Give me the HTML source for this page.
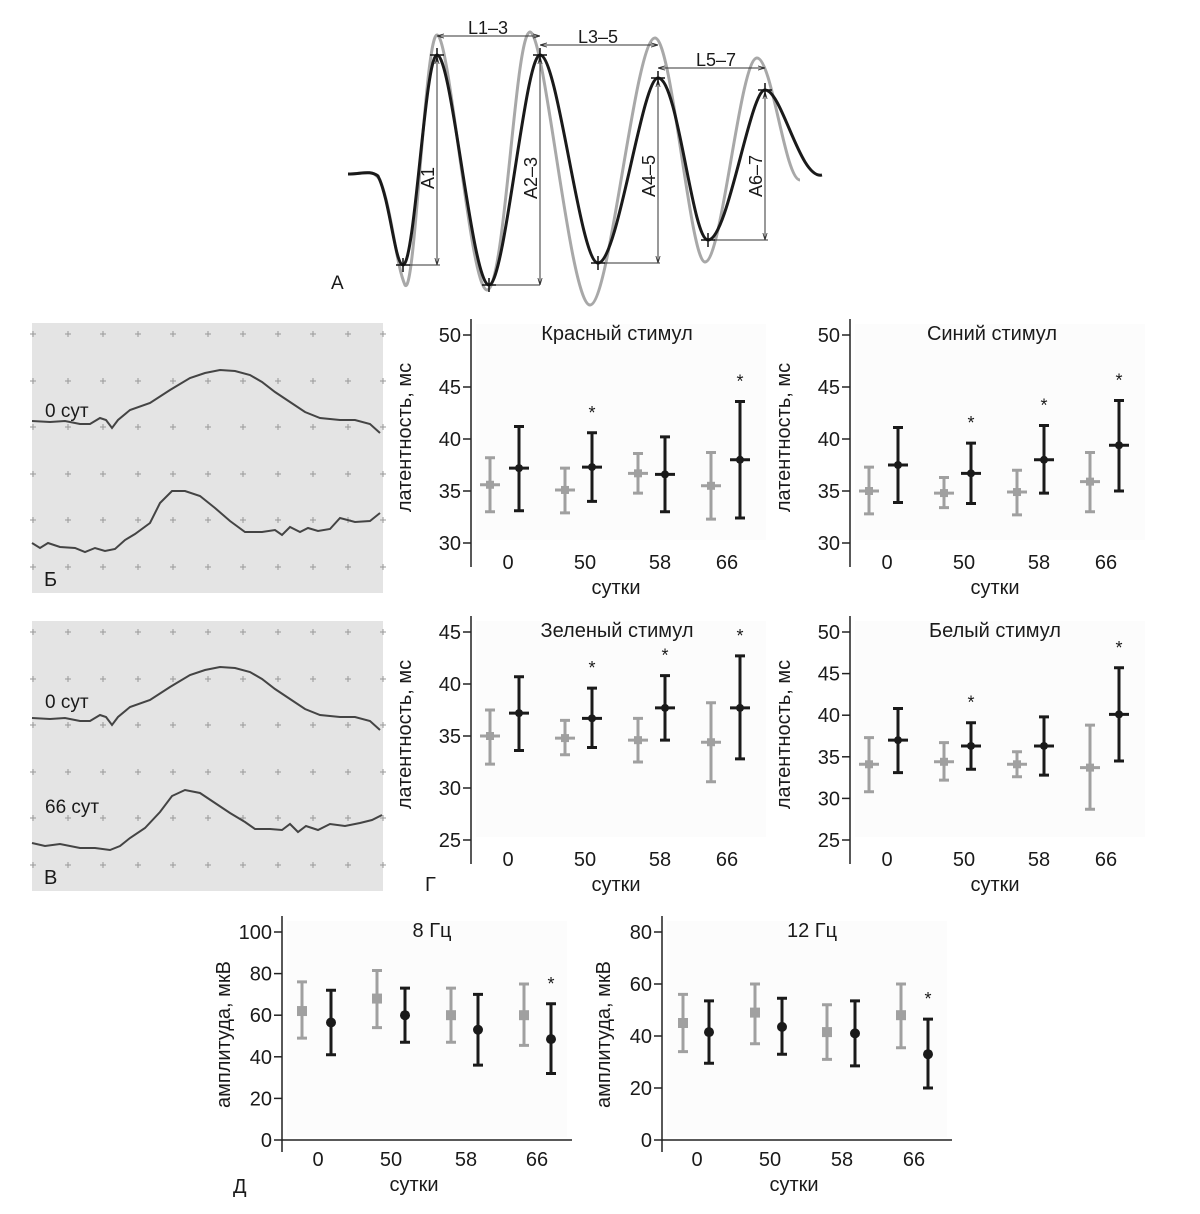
<!DOCTYPE html>
<html><head><meta charset="utf-8"><style>
html,body{margin:0;padding:0;background:#fff;}
svg text{font-family:"Liberation Sans","DejaVu Sans",sans-serif;fill:#1a1a1a;}
</style></head><body>
<svg id="s" width="1200" height="1209" viewBox="0 0 1200 1209" xmlns="http://www.w3.org/2000/svg">
<defs>
<marker id="ar" viewBox="0 0 10 10" refX="10" refY="5" markerWidth="7" markerHeight="7" orient="auto-start-reverse"><path d="M0,2 L10,5 L0,8" fill="none" stroke="#333" stroke-width="1.2"/></marker>
</defs>
<g fill="none" stroke-linejoin="round">
<path d="M348,174 C365,174 372,168 380,180 C392,210 396,265 405,285 C415,300 425,35 437,35 C450,35 470,290 487,290 C505,290 515,32 530,32 C545,32 570,305 590,305 C610,305 635,38 655,38 C672,38 690,262 705,262 C722,262 740,58 757,58 C772,58 785,180 800,180" stroke="#a8a8a8" stroke-width="3"/>
<path d="M348,174 C362,174 370,170 378,176 C390,200 395,265 403,265 C415,265 425,55 437,55 C452,55 472,285 489,285 C505,285 525,55 540,55 C558,55 580,263 598,263 C618,263 642,78 658,78 C678,78 692,240 708,240 C728,240 750,90 765,90 C782,90 800,180 822,175" stroke="#1a1a1a" stroke-width="3"/>
</g>
<g stroke="#333" stroke-width="1" fill="none">
<line x1="437" y1="36" x2="540" y2="36" marker-start="url(#ar)" marker-end="url(#ar)"/>
<line x1="540" y1="45" x2="658" y2="45" marker-start="url(#ar)" marker-end="url(#ar)"/>
<line x1="658" y1="68" x2="765" y2="68" marker-start="url(#ar)" marker-end="url(#ar)"/>
<line x1="437" y1="57" x2="437" y2="265" marker-start="url(#ar)" marker-end="url(#ar)"/>
<line x1="403" y1="265" x2="440" y2="265"/>
<line x1="540" y1="57" x2="540" y2="285" marker-start="url(#ar)" marker-end="url(#ar)"/>
<line x1="489" y1="285" x2="540" y2="285"/>
<line x1="658" y1="80" x2="658" y2="263" marker-start="url(#ar)" marker-end="url(#ar)"/>
<line x1="598" y1="263" x2="660" y2="263"/>
<line x1="765" y1="92" x2="765" y2="240" marker-start="url(#ar)" marker-end="url(#ar)"/>
<line x1="708" y1="240" x2="768" y2="240"/>
</g>
<g stroke="#111" stroke-width="1.5">
<path d="M396,265h14M403,258v14M430,55h14M437,48v14M482,285h14M489,278v14M533,55h14M540,48v14M591,263h14M598,256v14M651,78h14M658,71v14M701,240h14M708,233v14M758,90h14M765,83v14"/>
</g>
<g font-size="18">
<text x="488" y="34" text-anchor="middle">L1–3</text>
<text x="598" y="43" text-anchor="middle">L3–5</text>
<text x="716" y="66" text-anchor="middle">L5–7</text>
<text transform="translate(434,178) rotate(-90)" text-anchor="middle">A1</text>
<text transform="translate(537,178) rotate(-90)" text-anchor="middle">A2–3</text>
<text transform="translate(655,176) rotate(-90)" text-anchor="middle">A4–5</text>
<text transform="translate(762,176) rotate(-90)" text-anchor="middle">A6–7</text>
<text x="331" y="289" font-size="19">А</text>
</g>
<g id="charts"></g>
</svg>
<script>
var out="";
function t(x,y,s,opt){opt=opt||{};out+='<text x="'+x+'" y="'+y+'" font-size="'+(opt.fs||17)+'"'+(opt.a?' text-anchor="'+opt.a+'"':'')+(opt.tr?' transform="'+opt.tr+'"':'')+'>'+s+'</text>';}
function eeg(y0,top,bot,labels,letter){
 out+='<rect x="32" y="'+y0+'" width="351" height="270" fill="#e4e4e4"/>';
 var ys=[11,58,104,151,197,244];
 for(var i=0;i<ys.length;i++)for(var j=0;j<11;j++){var x=33+j*35,y=y0+ys[i];out+='<path d="M'+(x-3)+','+y+'h6M'+x+','+(y-3)+'v6" stroke="#999" stroke-width="1"/>';}
 out+='<polyline points="'+top+'" fill="none" stroke="#444" stroke-width="2"/>';
 out+='<polyline points="'+bot+'" fill="none" stroke="#444" stroke-width="2"/>';
 labels.forEach(function(l){t(l[0],l[1],l[2],{fs:19});});
 t(44,y0+263,letter,{fs:20});
}
var topB="32,421 50,422 65,421 80,424 90,424 100,418 106,420 112,428 118,420 130,410 150,403 170,390 190,378 205,373 220,370 235,371 250,375 262,382 275,392 290,402 305,412 320,418 340,420 355,420 370,424 380,433";
var botB="32,543 40,548 48,543 60,547 75,548 85,552 95,548 105,551 115,549 125,540 135,534 150,523 160,503 172,491 185,491 200,496 215,508 230,521 245,532 262,532 275,530 282,535 290,527 300,532 308,528 318,531 330,529 340,518 355,522 370,521 380,513";
eeg(323,topB,botB,[[45,417,"0 сут"]],"Б");
function shift(p,dy){return p.split(" ").map(function(q){var a=q.split(",");return a[0]+","+(+a[1]+dy);}).join(" ");}
var botC="32,843 45,846 60,844 80,848 95,848 110,850 120,846 130,838 145,828 160,812 172,796 185,790 200,793 215,803 230,813 245,822 255,829 270,829 282,830 290,824 298,832 306,826 318,830 330,824 345,826 360,823 372,820 382,815";
eeg(621,shift(topB,297),botC,[[45,708,"0 сут"],[45,813,"66 сут"]],"В");

function chart(c){
 var ax=c.ax, ys=function(v){return c.y0+(c.v0-v)*(c.y1-c.y0)/(c.v0-c.v1);};
 out+='<rect x="'+(ax+5)+'" y="'+(c.top-8)+'" width="'+(c.w-10)+'" height="'+(c.y1-c.top+5)+'" fill="#fcfcfc"/>';
 out+='<line x1="'+ax+'" y1="'+(c.top-13)+'" x2="'+ax+'" y2="'+c.bottom+'" stroke="#222" stroke-width="1.5"/>';
 if(c.xline) out+='<line x1="'+ax+'" y1="'+c.y1+'" x2="'+(ax+c.w)+'" y2="'+c.y1+'" stroke="#222" stroke-width="1.5"/>';
 for(var v=c.v1;v<=c.v0+0.01;v+=c.step){var y=ys(v);out+='<line x1="'+(ax-8)+'" y1="'+y+'" x2="'+ax+'" y2="'+y+'" stroke="#222" stroke-width="1.5"/>';t(ax-10,y+7,v,{a:"end",fs:20});}
 var lx=c.lx;["0","50","58","66"].forEach(function(s,i){t(ax+lx[i],c.xl,s,{a:"middle",fs:20});});
 t(ax+c.sx,c.xl+25,"сутки",{a:"middle",fs:20});
 t(ax+c.tx,c.top+8,c.title,{a:"middle",fs:20});
 t(0,0,c.ylab,{a:"middle",fs:20,tr:"translate("+(ax-c.yo)+","+((c.top+c.y1)/2)+") rotate(-90)"});
 var off=c.off;
 c.d.forEach(function(d,i){
  var x=ax+off[i], col=(i%2==0)?"#a0a0a0":"#1a1a1a";
  var m=ys(d[0]),lo=ys(d[1]),hi=ys(d[2]);
  out+='<line x1="'+x+'" y1="'+hi+'" x2="'+x+'" y2="'+lo+'" stroke="'+col+'" stroke-width="3"/>';
  out+='<path d="M'+(x-5)+','+hi+'h10M'+(x-5)+','+lo+'h10" stroke="'+col+'" stroke-width="3"/>';
  if(c.amp){ if(i%2==0) out+='<rect x="'+(x-5)+'" y="'+(m-5)+'" width="10" height="10" fill="'+col+'"/>'; else out+='<circle cx="'+x+'" cy="'+m+'" r="5" fill="'+col+'"/>';}
  else { out+='<path d="M'+(x-10)+','+m+'h20" stroke="'+col+'" stroke-width="3"/>'; if(i%2==0) out+='<rect x="'+(x-4)+'" y="'+(m-4)+'" width="8" height="8" fill="'+col+'"/>'; else out+='<circle cx="'+x+'" cy="'+m+'" r="4" fill="'+col+'"/>';}
  if(d[3]) t(x,hi-14,"*",{a:"middle",fs:18});
 });
}
var latOff=[19,48,94,121,167,194,240,269], latL=[37,114,189,256];
function lat(ax,top,v0,v1,title,tx,d){chart({ax:ax,top:top,y0:top+3,y1:top+211,v0:v0,v1:v1,step:5,bottom:top+235,w:300,lx:latL,xl:top+237,sx:145,tx:tx,title:title,ylab:"латентность, мс",yo:60,off:latOff,d:d});}
lat(471,332,50,30,"Красный стимул",146,[[35.6,33,38.2],[37.2,33.1,41.2],[35.1,32.9,37.2],[37.3,34,40.6,1],[36.7,34.8,38.6],[36.6,33,40.2],[35.5,32.3,38.7],[38,32.4,43.6,1]]);
lat(850,332,50,30,"Синий стимул",142,[[35,32.8,37.3],[37.5,33.9,41.1],[34.8,33.4,36.3],[36.7,33.8,39.6,1],[34.9,32.7,37],[38,34.8,41.3,1],[35.9,33,38.7],[39.4,35,43.7,1]]);
lat(471,629,45,25,"Зеленый стимул",146,[[35,32.3,37.5],[37.2,33.6,40.7],[34.8,33.2,36.5],[36.7,33.9,39.6,1],[34.6,32.5,36.7],[37.7,34.6,40.8,1],[34.4,30.6,38.2],[37.7,32.8,42.7,1]]);
lat(850,629,50,25,"Белый стимул",145,[[34.1,30.8,37.3],[37,33.1,40.8],[34.4,32.2,36.7],[36.3,33.5,39.1,1],[34.1,32.6,35.6],[36.3,32.8,39.8],[33.7,28.7,38.8],[40.1,34.5,45.7,1]]);
chart({ax:282,top:929,y0:932,y1:1140,v0:100,v1:0,step:20,bottom:1152,w:290,lx:[36,109,184,255],xl:1166,sx:132,tx:150,title:"8 Гц",ylab:"амплитуда, мкВ",yo:52,off:[20,49,95,123,169,196,242,269],amp:1,xline:1,
 d:[[62,49,76],[56.5,41,72],[68,54,81.5],[60,47,73],[60,47,73],[53,36,70],[60,45.5,75],[48.5,32,65.5,1]]});
chart({ax:662,top:929,y0:932,y1:1140,v0:80,v1:0,step:20,bottom:1152,w:290,lx:[35,108,180,252],xl:1166,sx:132,tx:150,title:"12 Гц",ylab:"амплитуда, мкВ",yo:52,off:[21,47,93,120,165,193,239,266],amp:1,xline:1,
 d:[[45,34,56],[41.5,29.5,53.5],[49,37,60],[43.5,33,54.5],[41.5,31,52],[41,28.5,53.5],[48,35.5,60],[33,20,46.5,1]]});
t(425,891,"Г",{fs:20});
t(233,1193,"Д",{fs:20});
document.getElementById("charts").innerHTML=out;
</script>
</body></html>
